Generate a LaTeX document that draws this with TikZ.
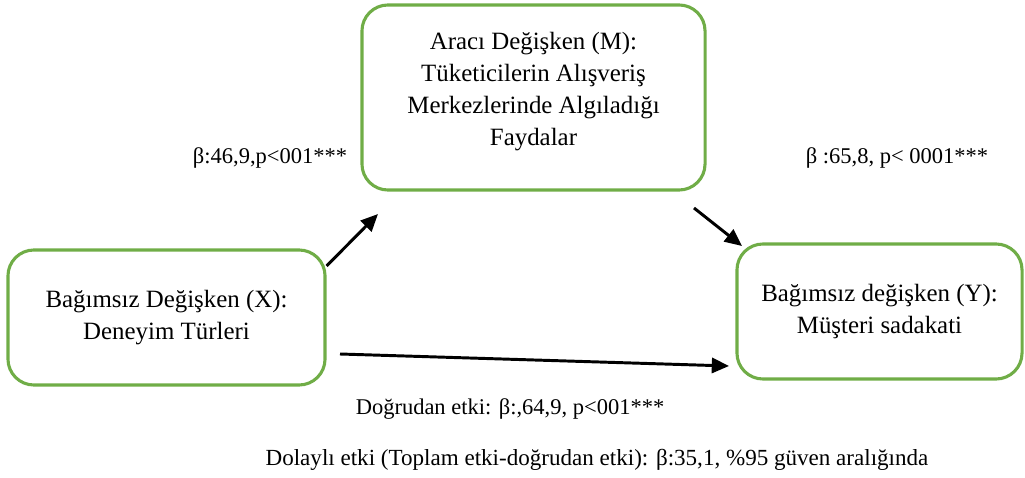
\documentclass[tikz,border=0pt]{standalone}
\usepackage{fontspec}
\setmainfont{Liberation Serif}
\usepackage{xcolor}
\usetikzlibrary{arrows.meta,positioning,calc}
\definecolor{boxgreen}{RGB}{112,173,71}

\begin{document}
\begin{tikzpicture}[
  x=0.025cm, y=-0.025cm,
  box/.style={draw=boxgreen, line width=2.2pt, rounded corners=0.65cm, align=center,
              font=\fontsize{17.7}{22.7}\selectfont, inner sep=0pt},
  boxtxt/.style={align=center, font=\fontsize{17.7}{22.7}\selectfont, inner sep=0pt},
  arr/.style={-{Triangle[length=4.3mm, width=3.8mm]}, line width=2.1pt},
  lbl/.style={font=\fontsize{16}{19}\selectfont}
]
\useasboundingbox (0,0) rectangle (1025,478);

\node[box, minimum width=8.575cm, minimum height=4.625cm] (med) at (533.5,97.5) {};
\node[boxtxt] (medtxt) at (533.5,91.5)
  {Aracı Değişken (M):\\Tüketicilerin Alışveriş\\Merkezlerinde Algıladığı\\Faydalar};
\node[box, minimum width=7.925cm, minimum height=3.375cm] (indep) at (166.5,317.5)
  {Bağımsız Değişken (X):\\Deneyim Türleri};
\node[box, minimum width=7.125cm, minimum height=3.375cm] (dep) at (879.5,311.5)
  {Bağımsız değişken (Y):\\Müşteri sadakati};

% free ends of the arrows
\coordinate (xm) at (378,214);
\coordinate (my0) at (694,208);
\coordinate (my1) at (742,246);
\coordinate (xy0) at (340,354);
\coordinate (xy1) at (729,366);

\draw[arr] (indep.east |- 0,266) -- (xm);
\draw[arr] (my0) -- (my1);
\draw[arr] (xy0) -- (xy1);

\node[lbl] (bxm) at (270,158) {β:46,9,p<001***};
\node[lbl] (bmy) at (897,158) {β :65,8, p< 0001***};
\node[lbl] (direct) at (510,409) {Doğrudan etki: β:,64,9, p<001***};
\node[lbl, font=\fontsize{16.4}{19}\selectfont] (indirect) at (597,460)
  {Dolaylı etki (Toplam etki-doğrudan etki): β:35,1, \%95 güven aralığında};
\end{tikzpicture}
\end{document}
